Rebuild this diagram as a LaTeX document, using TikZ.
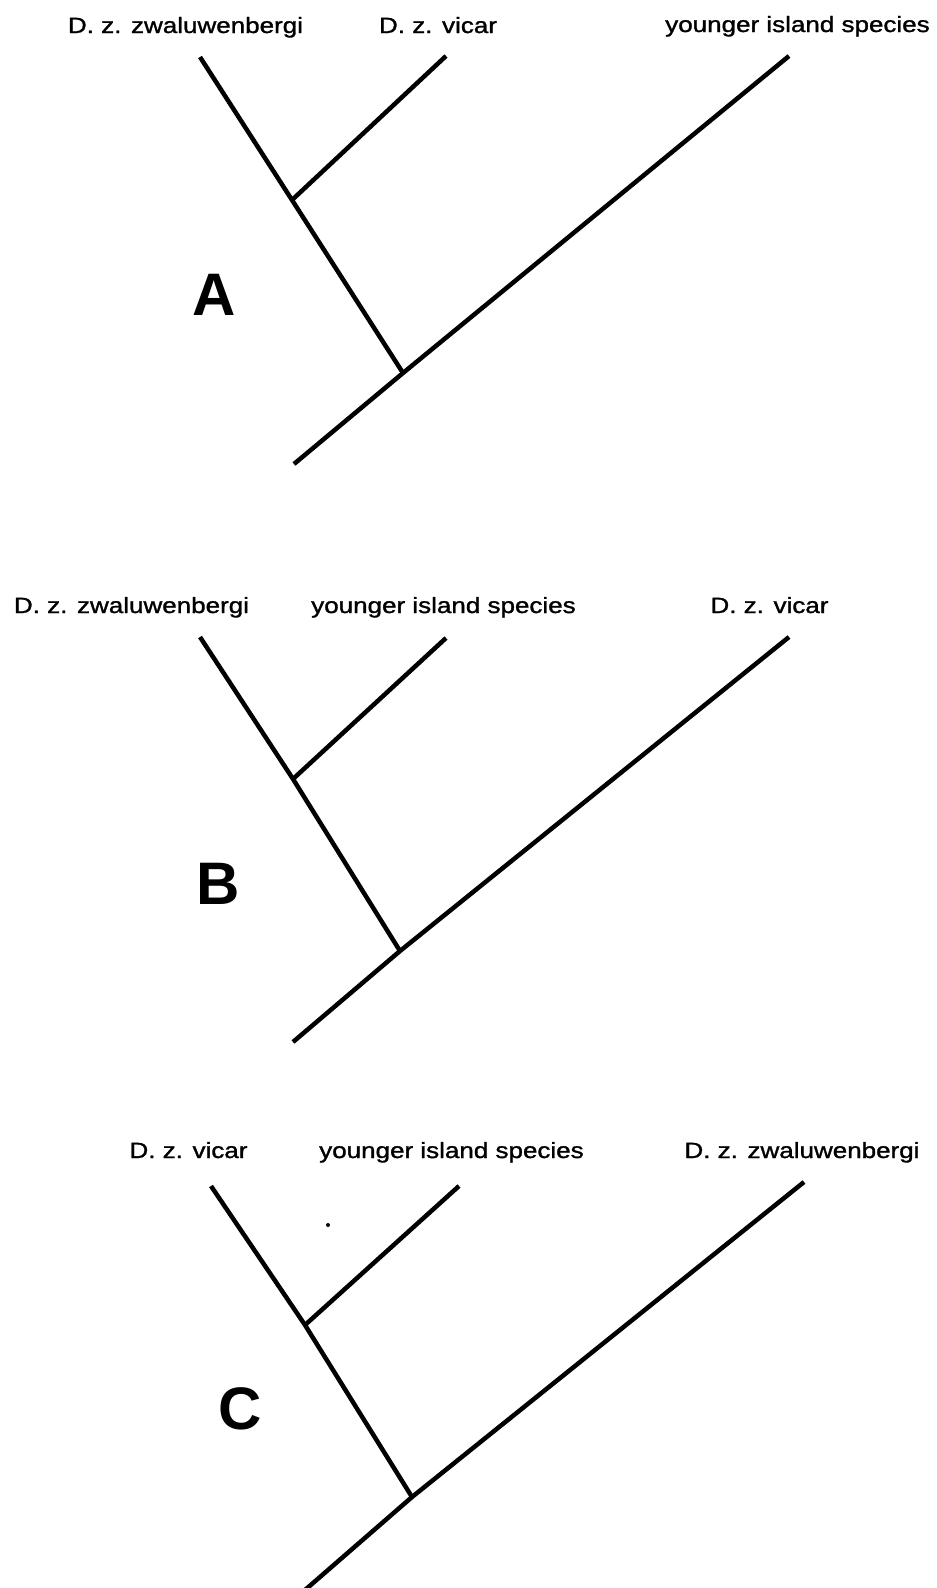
\documentclass[tikz,border=0pt]{standalone}
\usepackage{fontspec}
\setmainfont{Liberation Sans}
\newfontfamily\lblfont[FakeBold=1.2]{Liberation Sans}
\newcommand\lbltext[1]{\scalebox{1}[0.85]{\lblfont\fontsize{26}{30}\selectfont #1}}
\begin{document}
\begin{tikzpicture}[x=1pt,y=-1pt,
  branch/.style={line width=4.5pt,black},
  taxon/.style={inner sep=0pt,anchor=base},
  panel/.style={inner sep=0pt,anchor=base,font=\fontsize{60}{64}\selectfont\bfseries}]
\useasboundingbox[fill=white] (0,0) rectangle (937,1588);

% ---------- Panel A ----------
\node[taxon] (a1) at (185.5,33) {\lbltext{D. z. zwaluwenbergi}};
\node[taxon] (a2) at (438,33) {\lbltext{D. z. vicar}};
\node[taxon] (a3) at (797.5,32) {\lbltext{younger island species}};
\node[panel] (aL) at (214,315) {A};
\coordinate (aT1) at (200,57);
\coordinate (aT2) at (446,56);
\coordinate (aT3) at (789,56);
\coordinate (aIn) at (292,200);
\coordinate (aRt) at (403,373);
\coordinate (aBt) at (294,464);
\draw[branch] (aT1) -- (aIn) -- (aRt);
\draw[branch] (aIn) -- (aT2);
\draw[branch] (aBt) -- (aRt) -- (aT3);

% ---------- Panel B ----------
\node[taxon] (b1) at (131.5,613) {\lbltext{D. z. zwaluwenbergi}};
\node[taxon] (b2) at (443.5,613) {\lbltext{younger island species}};
\node[taxon] (b3) at (769.5,613) {\lbltext{D. z. vicar}};
\node[panel] (bL) at (218,904) {B};
\coordinate (bT1) at (200,637);
\coordinate (bT2) at (446,638);
\coordinate (bT3) at (789,637);
\coordinate (bIn) at (293,779);
\coordinate (bRt) at (400,951);
\coordinate (bBt) at (293,1042);
\draw[branch] (bT1) -- (bIn) -- (bRt);
\draw[branch] (bIn) -- (bT2);
\draw[branch] (bBt) -- (bRt) -- (bT3);

% ---------- Panel C ----------
\node[taxon] (c1) at (188.5,1158) {\lbltext{D. z. vicar}};
\node[taxon] (c2) at (451.5,1158) {\lbltext{younger island species}};
\node[taxon] (c3) at (802,1158) {\lbltext{D. z. zwaluwenbergi}};
\node[panel] (cL) at (240,1429) {C};
\coordinate (cT1) at (211,1186);
\coordinate (cT2) at (459,1186);
\coordinate (cT3) at (804,1182);
\coordinate (cIn) at (305,1325);
\coordinate (cRt) at (412,1497);
\coordinate (cBt) at (305,1590);
\draw[branch] (cT1) -- (cIn) -- (cRt);
\draw[branch] (cIn) -- (cT2);
\draw[branch] (cBt) -- (cRt) -- (cT3);
\fill[black] (328,1225) circle (2);
\end{tikzpicture}
\end{document}
